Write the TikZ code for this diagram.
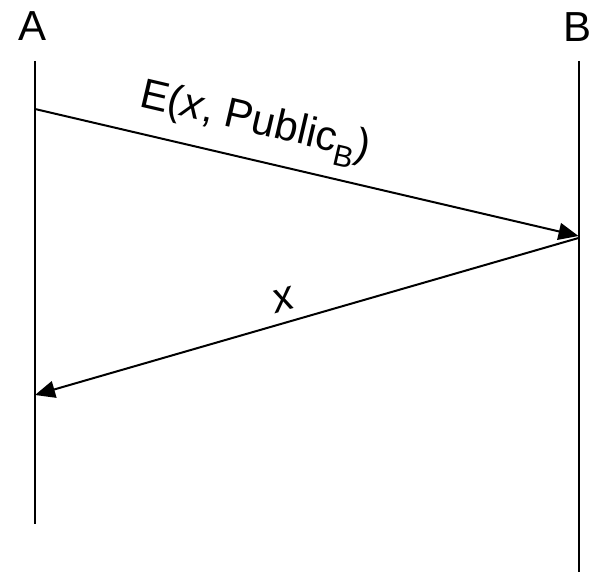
\documentclass[tikz,border=0pt]{standalone}
\usepackage{fontspec}
\setmainfont{Liberation Sans}
\usetikzlibrary{arrows.meta, positioning}

\newcommand{\subB}{\raisebox{-0.3em}{\fontsize{15}{18}\selectfont B}}

\begin{document}
\begin{tikzpicture}[
    x=0.5pt, y=-0.5pt,
    party/.style   = {inner sep=0pt, font=\fontsize{21}{25}\selectfont},
    lifeline/.style= {line width=1pt},
    msg/.style     = {line width=1pt, -{Triangle[length=10pt, width=8.5pt]}},
    msglabel/.style= {sloped, font=\fontsize{21}{25}\selectfont},
]
\useasboundingbox (0,0) rectangle (592,572);

%% Parties
\node[party] (A) at (33,26) {A};
\node[party] (B) at (577,27) {B};

%% Lifelines
\coordinate (Atop) at (35,61);
\coordinate (Abot) at (35,524);
\coordinate (Btop) at (578.5,61);
\coordinate (Bbot) at (578.5,572);
\draw[lifeline] (Atop) -- (Abot);
\draw[lifeline] (Btop) -- (Bbot);

%% Message points
\coordinate (sendA) at (35,109);
\coordinate (recvB) at (578.5,236);
\coordinate (sendB) at (578.5,238);
\coordinate (recvA) at (35,395);

%% Messages
\draw[msg] (sendA) -- node[msglabel, above=3pt, pos=0.39] (enc) {E(\textit{x}, Public\subB)} (recvB);
\draw[msg] (sendB) -- node[msglabel, above=2pt, pos=0.53] (plain) {\textit{x}} (recvA);

\end{tikzpicture}
\end{document}
